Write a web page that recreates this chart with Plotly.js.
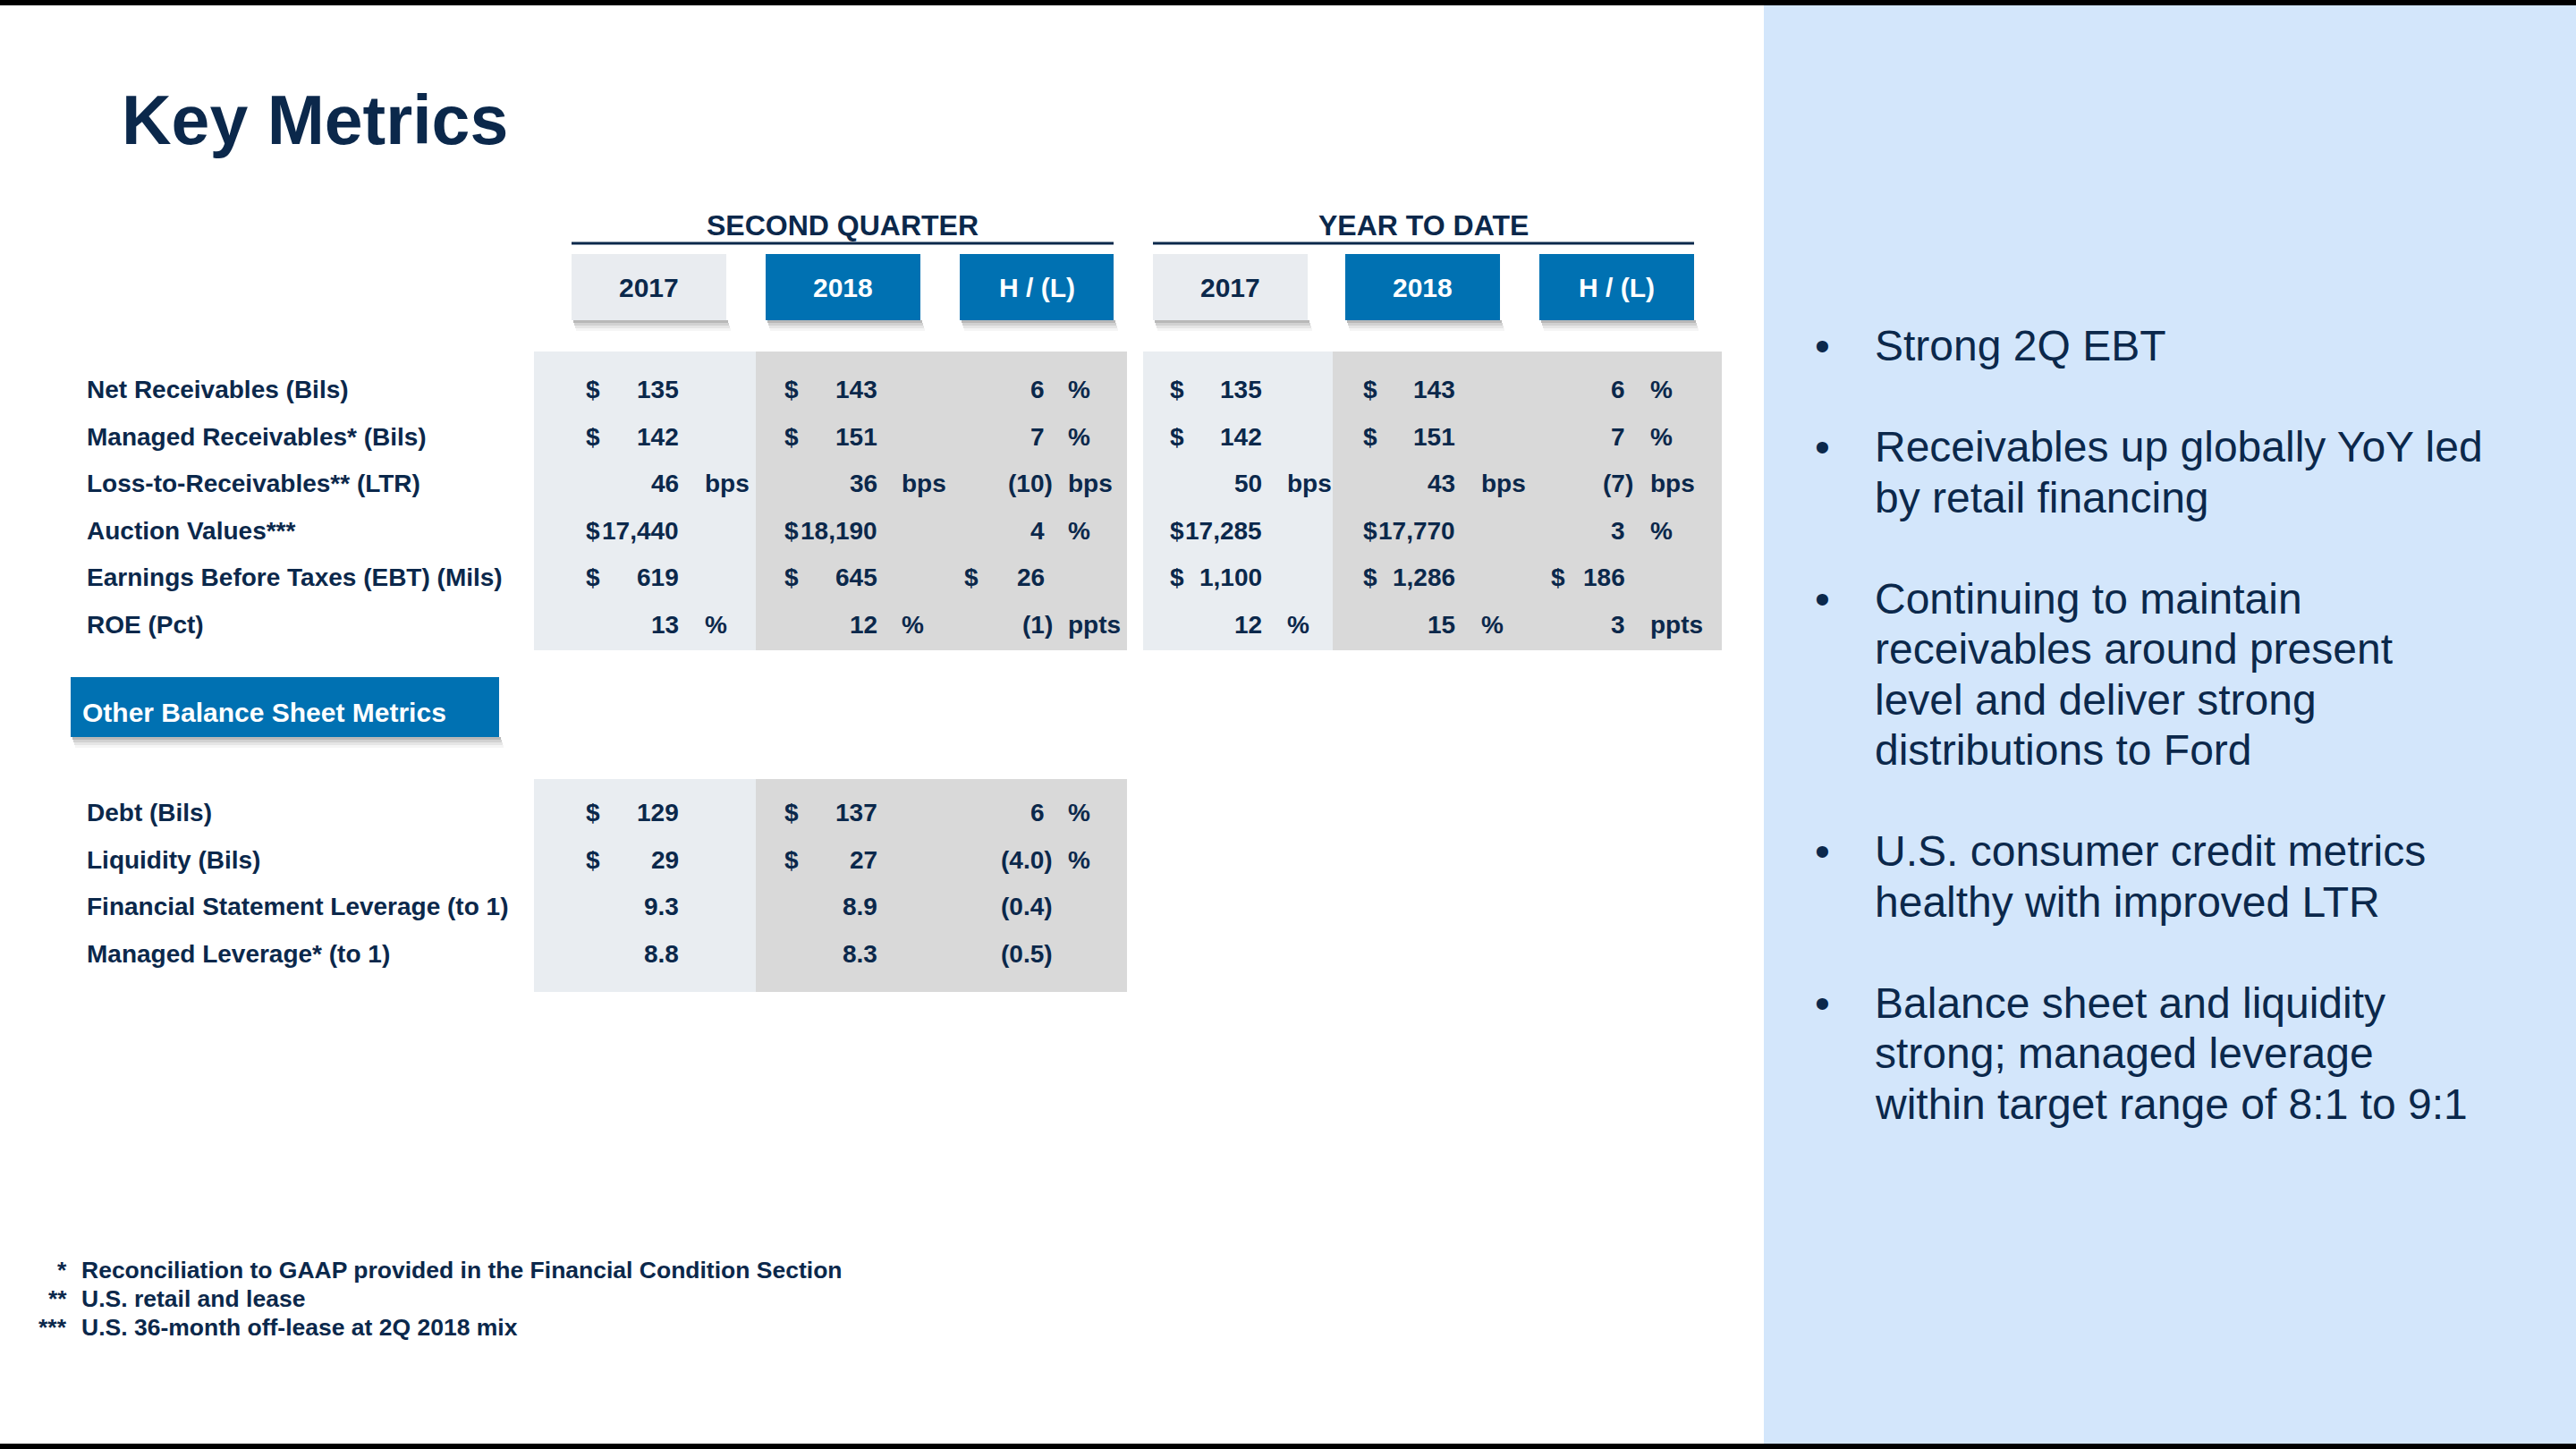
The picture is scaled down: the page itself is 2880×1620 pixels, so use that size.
<!DOCTYPE html>
<html><head><meta charset="utf-8">
<script src="https://cdn.plot.ly/plotly-3.0.1.min.js"></script>
<style>html,body{margin:0;padding:0;background:#fff;}#chart{width:2880px;height:1620px;}</style>
</head><body><div id="chart"></div>
<script>
// ---------------- DATA ----------------
const slideTitle = "Key Metrics";
const periodGroups = ["SECOND QUARTER", "YEAR TO DATE"];
const columnHeaders = ["2017", "2018", "H / (L)"];

const metricLabels = [
  "Net Receivables (Bils)",
  "Managed Receivables* (Bils)",
  "Loss-to-Receivables** (LTR)",
  "Auction Values***",
  "Earnings Before Taxes (EBT) (Mils)",
  "ROE (Pct)"
];
const q2Values2017 = [135, 142, 46, 17440, 619, 13];
const q2Values2018 = [143, 151, 36, 18190, 645, 12];
const q2Change = [6, 7, -10, 4, 26, -1];
const ytdValues2017 = [135, 142, 50, 17285, 1100, 12];
const ytdValues2018 = [143, 151, 43, 17770, 1286, 15];
const ytdChange = [6, 7, -7, 3, 186, 3];
const metricUnits = ["$", "$", "bps", "$", "$", "%"];
const metricChangeUnits = ["%", "%", "bps", "%", "$", "ppts"];

const balanceSheetTitle = "Other Balance Sheet Metrics";
const bsLabels = ["Debt (Bils)", "Liquidity (Bils)", "Financial Statement Leverage (to 1)", "Managed Leverage* (to 1)"];
const bsValues2017 = [129, 29, 9.3, 8.8];
const bsValues2018 = [137, 27, 8.9, 8.3];
const bsChange = [6, -4.0, -0.4, -0.5];
const bsValueDecimals = [0, 0, 1, 1];
const bsChangeDecimals = [0, 1, 1, 1];
const bsUnits = ["$", "$", "", ""];
const bsChangeUnits = ["%", "%", "", ""];

const footnoteMarks = ["*", "**", "***"];
const footnoteTexts = [
  "Reconciliation to GAAP provided in the Financial Condition Section",
  "U.S. retail and lease",
  "U.S. 36-month off-lease at 2Q 2018 mix"
];

const bulletPoints = [
  ["Strong 2Q EBT"],
  ["Receivables up globally YoY led", "by retail financing"],
  ["Continuing to maintain", "receivables around present", "level and deliver strong", "distributions to Ford"],
  ["U.S. consumer credit metrics", "healthy with improved LTR"],
  ["Balance sheet and liquidity", "strong; managed leverage", "within target range of 8:1 to 9:1"]
];

// ---------------- STYLE / LAYOUT ----------------
const FONT = "Liberation Sans, Arial, Helvetica, sans-serif";
const NAVY = "#0B284B";
const BLUE = "#0071B2";
const LIGHTBOX = "#E9ECF0";
const SHADE_LIGHT = "#E9EDF1";
const SHADE_DARK = "#D9D9D9";
const PANEL = "#D3E6FB";

const tableFont = 28;
const colSpecs = [ // Q2 2017, Q2 2018, Q2 H/L, YTD 2017, YTD 2018, YTD H/L
  {dollar: 653, right: 761, unit: 786},
  {dollar: 875, right: 983, unit: 1006},
  {dollar: 1076, right: 1170, unit: 1192},
  {dollar: 1306, right: 1413, unit: 1437},
  {dollar: 1522, right: 1629, unit: 1654},
  {dollar: 1732, right: 1819, unit: 1843}
];
const headerBoxes = [[639, 812], [856, 1029], [1073, 1245], [1289, 1462], [1504, 1677], [1721, 1894]];
const groupLines = [[639, 1245], [1289, 1894]];

const shapes = [];
const annotations = [];

function rect(x0, y0, x1, y1, color, layer) {
  shapes.push({type: "rect", xref: "x", yref: "y", x0, y0, x1, y1,
    fillcolor: color, line: {width: 0}, layer: layer || "below"});
}
function text(x, y, t, opt) {
  opt = opt || {};
  annotations.push({
    x, y, xref: "x", yref: "y", text: t, showarrow: false,
    xanchor: opt.anchor || "left", yanchor: "middle",
    font: {family: FONT, size: opt.size || tableFont, color: opt.color || NAVY, weight: opt.weight || "bold"}
  });
}
function shadow(x0, x1, yb) {
  rect(x0 + 2, yb, x1 + 2, yb + 3, "rgba(0,0,0,0.28)");
  rect(x0 + 3, yb + 3, x1 + 3, yb + 6, "rgba(0,0,0,0.18)");
  rect(x0 + 4, yb + 6, x1 + 4, yb + 9, "rgba(0,0,0,0.10)");
  rect(x0 + 5, yb + 9, x1 + 5, yb + 12, "rgba(0,0,0,0.04)");
}
function fmt(v, d) {
  return Math.abs(v).toLocaleString("en-US", {minimumFractionDigits: d, maximumFractionDigits: d});
}
function cell(spec, y, v, d, unit) {
  if (unit === "$") text(spec.dollar, y, "$");
  if (v < 0) text(spec.right + 9, y, "(" + fmt(v, d) + ")", {anchor: "right"});
  else text(spec.right, y, fmt(v, d), {anchor: "right"});
  if (unit && unit !== "$") text(spec.unit, y, unit);
}

// frame
rect(1972, 0, 2880, 1620, PANEL);
rect(0, 0, 2880, 6, "#000000", "above");
rect(0, 1614, 2880, 1620, "#000000", "above");

// title
text(134, 134, slideTitle, {size: 77});

// period group headers
periodGroups.forEach((g, i) => {
  const [a, b] = groupLines[i];
  text((a + b) / 2, 252, g, {anchor: "center", size: 32});
  shapes.push({type: "line", xref: "x", yref: "y", x0: a, x1: b, y0: 272, y1: 272, line: {color: NAVY, width: 3}});
});

// column header boxes
headerBoxes.forEach(([a, b], i) => {
  const isBase = (i % 3) === 0;
  shadow(a, b, 358);
  rect(a, 284, b, 358, isBase ? LIGHTBOX : BLUE);
  text((a + b) / 2, 321, columnHeaders[i % 3], {anchor: "center", size: 30, color: isBase ? NAVY : "#FFFFFF"});
});

// table 1 shading
rect(597, 393, 845, 727, SHADE_LIGHT);
rect(845, 393, 1260, 727, SHADE_DARK);
rect(1278, 393, 1490, 727, SHADE_LIGHT);
rect(1490, 393, 1925, 727, SHADE_DARK);

const t1Series = [q2Values2017, q2Values2018, q2Change, ytdValues2017, ytdValues2018, ytdChange];
metricLabels.forEach((lab, r) => {
  const y = 435.5 + 52.5 * r;
  text(95, y, lab);
  t1Series.forEach((ser, c) => {
    const unit = (c % 3 === 2) ? metricChangeUnits[r] : metricUnits[r];
    cell(colSpecs[c], y, ser[r], 0, unit);
  });
});

// other balance sheet metrics box
shadow(79, 558, 824);
rect(79, 757, 558, 824, BLUE);
text(90, 796, balanceSheetTitle, {size: 30, color: "#FFFFFF"});

// table 2
rect(597, 871, 845, 1109, SHADE_LIGHT);
rect(845, 871, 1260, 1109, SHADE_DARK);
const t2Series = [bsValues2017, bsValues2018, bsChange];
bsLabels.forEach((lab, r) => {
  const y = 908.5 + 52.7 * r;
  text(95, y, lab);
  t2Series.forEach((ser, c) => {
    const unit = c === 2 ? bsChangeUnits[r] : bsUnits[r];
    const d = c === 2 ? bsChangeDecimals[r] : bsValueDecimals[r];
    cell(colSpecs[c], y, ser[r], d, unit);
  });
});

// footnotes
footnoteTexts.forEach((t, i) => {
  const y = 1419.5 + 32 * i;
  text(77, y, footnoteMarks[i], {anchor: "right", size: 26.5});
  text(89, y, t, {size: 26.5});
});

// bullets
let line = 0;
bulletPoints.forEach((lines) => {
  text(2027, 386.5 + 56.5 * line, "\u2022", {size: 48, weight: "normal"});
  lines.forEach((l) => {
    text(2094, 386.5 + 56.5 * line, l, {size: 48, weight: "normal"});
    line++;
  });
  line++;
});

const layout = {
  width: 2880, height: 1620,
  margin: {l: 0, r: 0, t: 0, b: 0},
  paper_bgcolor: "#FFFFFF", plot_bgcolor: "#FFFFFF",
  xaxis: {range: [0, 2880], visible: false, fixedrange: true},
  yaxis: {range: [1620, 0], visible: false, fixedrange: true},
  showlegend: false,
  shapes, annotations
};
Plotly.newPlot("chart", [], layout, {displayModeBar: false, staticPlot: true});
</script></body></html>
